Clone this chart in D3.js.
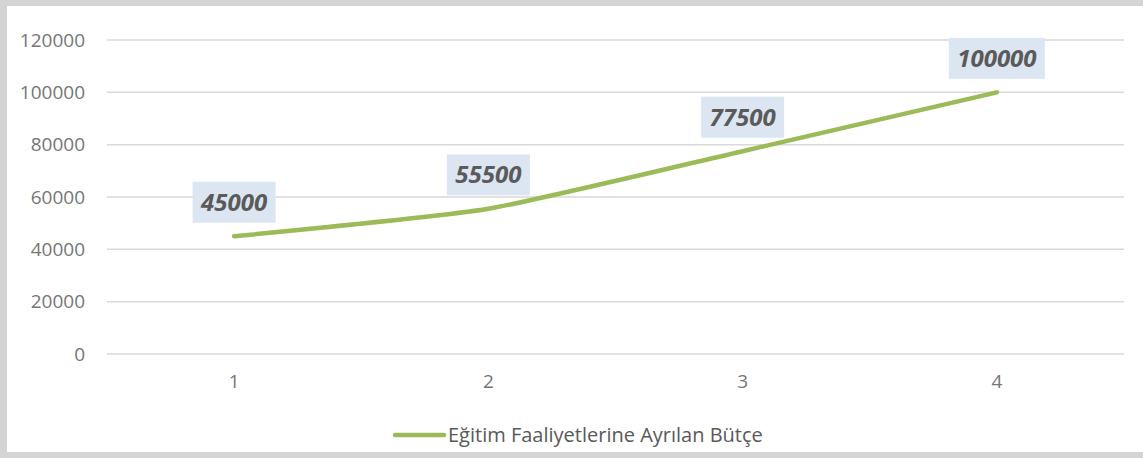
<!DOCTYPE html>
<html>
<head>
<meta charset="utf-8">
<script src="https://cdn.jsdelivr.net/npm/d3@7"></script>
<style>
  body { margin: 0; background: #fff; }
  text { font-family: "Open Sans", "Liberation Sans", sans-serif; }
</style>
</head>
<body>
<div id="main"></div>
<script>
const ctx = {
    w: 1143,
    h: 458
};

// data
const categories = ["1", "2", "3", "4"];
const values = [45000, 55500, 77500, 100000];
const yTicks = [0, 20000, 40000, 60000, 80000, 100000, 120000];
const seriesName = "Eğitim Faaliyetlerine Ayrılan Bütçe";

function createViz() {
    let svg = d3.select("#main").append("svg")
        .attr("width", ctx.w)
        .attr("height", ctx.h);

    // frame
    svg.append("rect")
        .attr("x", 0).attr("y", 0)
        .attr("width", ctx.w).attr("height", ctx.h)
        .attr("fill", "#d4d4d4");
    svg.append("rect")
        .attr("x", 7).attr("y", 6)
        .attr("width", ctx.w - 7).attr("height", 446)
        .attr("fill", "#ffffff");

    let xScale = d3.scaleBand()
        .domain(categories)
        .range([107, 1124]);
    let yScale = d3.scaleLinear()
        .domain([0, 120000])
        .range([354, 40]);

    // gridlines
    svg.append("g").selectAll("line")
        .data(yTicks)
        .enter()
        .append("line")
            .attr("x1", 107)
            .attr("x2", 1124)
            .attr("y1", (d) => yScale(d))
            .attr("y2", (d) => yScale(d))
            .attr("stroke", "#d9d9d9")
            .attr("stroke-width", 1.5);

    // y axis labels
    let yAxis = d3.axisLeft(yScale).tickValues(yTicks).tickFormat(d3.format("d"))
        .tickSize(0).tickPadding(22);
    let yG = svg.append("g")
        .attr("transform", "translate(107,0)")
        .call(yAxis);
    yG.select(".domain").remove();
    yG.selectAll("text")
        .attr("fill", "#767676")
        .style("font-size", "19px");

    // x axis labels
    let xAxis = d3.axisBottom(xScale).tickSize(0).tickPadding(21);
    let xG = svg.append("g")
        .attr("transform", "translate(0,354)")
        .call(xAxis);
    xG.select(".domain").remove();
    xG.selectAll("text")
        .attr("fill", "#767676")
        .style("font-size", "19px");

    let pts = categories.map((c, i) => [xScale(c) + xScale.bandwidth() / 2, yScale(values[i])]);

    // line (smoothed like the original)
    let line = d3.line().curve(d3.curveCardinal.tension(0.5));
    svg.append("path")
        .attr("d", line(pts))
        .attr("fill", "none")
        .attr("stroke", "#9bbb59")
        .attr("stroke-width", 4.5)
        .attr("stroke-linecap", "round");

    // data labels
    let labels = svg.append("g").selectAll("g")
        .data(pts)
        .enter()
        .append("g")
            .attr("transform", (d) => "translate(" + d[0] + "," + (d[1] - 34) + ")");
    labels.append("rect")
        .attr("x", (d, i) => -(values[i] >= 100000 ? 48 : 41.5))
        .attr("y", -20.5)
        .attr("width", (d, i) => values[i] >= 100000 ? 96 : 83)
        .attr("height", 41)
        .attr("fill", "#dce6f2");
    labels.append("text")
        .attr("text-anchor", "middle")
        .attr("dy", "0.35em")
        .attr("fill", "#5a5a5a")
        .style("font-size", "24px")
        .style("font-weight", "bold")
        .style("font-style", "italic")
        .text((d, i) => values[i]);

    // legend
    let legend = svg.append("g").attr("transform", "translate(0,435)");
    legend.append("line")
        .attr("x1", 395).attr("x2", 444)
        .attr("y1", 0).attr("y2", 0)
        .attr("stroke", "#9bbb59")
        .attr("stroke-width", 4.5)
        .attr("stroke-linecap", "round");
    legend.append("text")
        .attr("x", 448)
        .attr("dy", "0.35em")
        .attr("fill", "#595959")
        .style("font-size", "20px")
        .text(seriesName);
}

createViz();
</script>
</body>
</html>
